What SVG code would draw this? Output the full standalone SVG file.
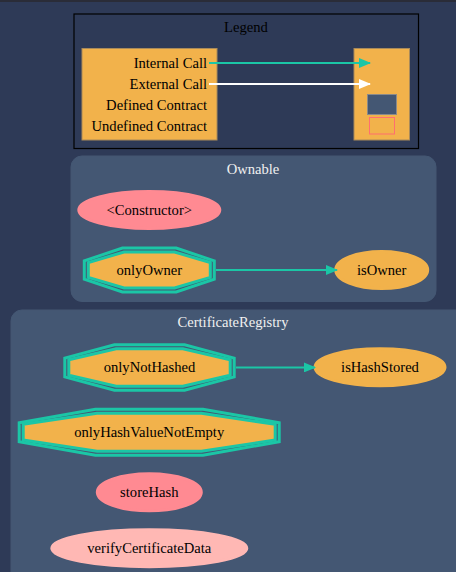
<svg xmlns="http://www.w3.org/2000/svg" width="456" height="572" viewBox="0 0 456 572">
<defs>
<style>
text{font-family:"Liberation Serif","Times New Roman",serif;font-size:14.6px;fill:#000}
.title{fill:#f0f0f0;text-anchor:middle}
.c{text-anchor:middle}
.r{text-anchor:end}
.cluster{fill:#445773;stroke:#445773}
.fn{fill:#f2b24b;stroke:#f2b24b;stroke-width:3}
.pub{fill:#ff8a92;stroke:#ff8a92;stroke-width:3}
.ext{fill:#ffb8b4;stroke:#ffb8b4;stroke-width:3}
.modo{fill:none;stroke:#1bc6a6;stroke-width:3}
.modi{fill:#f2b24b;stroke:#1bc6a6;stroke-width:3}
.int{stroke:#1bc6a6;stroke-width:2;fill:none}
.extc{stroke:#ffffff;stroke-width:2;fill:none}
</style>
<marker id="ag" markerWidth="12" markerHeight="10" refX="11" refY="5" orient="auto" markerUnits="userSpaceOnUse"><path d="M0,0 L12,5 L0,10 z" fill="#1bc6a6"/></marker>
<marker id="aw" markerWidth="12" markerHeight="10" refX="11" refY="5" orient="auto" markerUnits="userSpaceOnUse"><path d="M0,0 L12,5 L0,10 z" fill="#ffffff"/></marker>
</defs>
<rect x="0" y="0" width="456" height="572" fill="#2e3a57"/>
<rect x="0" y="0" width="456" height="2" fill="#2a2c38"/>

<g id="legend">
<rect x="74" y="14" width="344.5" height="134.5" fill="#2e3a57" stroke="#000" stroke-width="1.2"/>
<text class="c" x="246" y="32" style="fill:#000">Legend</text>
<rect x="82" y="48.5" width="135" height="91.5" fill="#f2b24b" stroke="#a98a5a" stroke-width="1"/>
<rect x="354" y="48.5" width="55.5" height="91.5" fill="#f2b24b" stroke="#a98a5a" stroke-width="1"/>
<text class="r" x="207" y="67.5">Internal Call</text>
<text class="r" x="207" y="88.5">External Call</text>
<text class="r" x="207" y="109.5">Defined Contract</text>
<text class="r" x="207" y="130.5">Undefined Contract</text>
<rect x="367.5" y="94.5" width="29" height="20" fill="#445773" stroke="#8a8a8a" stroke-width="1"/>
<rect x="369.5" y="117.5" width="25" height="16.5" fill="#f2b24b" stroke="#ff6f6f" stroke-width="1"/>
</g>

<g id="Ownable">
<rect class="cluster" x="71" y="156" width="365" height="145.5" rx="11"/>
<text class="title" x="253" y="173.5">Ownable</text>
</g>
<g id="CertificateRegistry">
<rect class="cluster" x="11" y="310" width="460" height="275" rx="11"/>
<text class="title" x="233" y="327">CertificateRegistry</text>
</g>

<g id="Ownable_constructor">
<ellipse class="pub" cx="149.3" cy="210" rx="70.5" ry="18.5"/>
<text class="c" x="149.3" y="214.8">&lt;Constructor&gt;</text>
</g>
<g id="Ownable_onlyOwner">
<polygon class="modo" points="214.3,260.9 176.2,248 122.4,248 84.3,260.9 84.3,279.1 122.4,292 176.2,292 214.3,279.1"/>
<polygon class="modi" points="210.3,262.55 174.55,252 124.05,252 88.3,262.55 88.3,277.45 124.05,288 174.55,288 210.3,277.45"/>
<text class="c" x="149.3" y="274.8">onlyOwner</text>
</g>
<g id="Ownable_isOwner">
<ellipse class="fn" cx="381.7" cy="270" rx="46" ry="18.5"/>
<text class="c" x="381.7" y="274.8">isOwner</text>
</g>

<g id="CertificateRegistry_onlyNotHashed">
<polygon class="modo" points="234.2,358.1 184.57,344.8 114.43,344.8 64.8,358.1 64.8,376.9 114.43,390.2 184.57,390.2 234.2,376.9"/>
<polygon class="modi" points="230.2,359.76 182.9,348.8 116.1,348.8 68.8,359.76 68.8,375.24 116.1,386.2 182.9,386.2 230.2,375.24"/>
<text class="c" x="149.5" y="372.3">onlyNotHashed</text>
</g>
<g id="CertificateRegistry_isHashStored">
<ellipse class="fn" cx="380" cy="367.3" rx="65" ry="18.5"/>
<text class="c" x="380" y="372.1">isHashStored</text>
</g>
<g id="CertificateRegistry_onlyHashValueNotEmpty">
<polygon class="modo" points="279.2,422.7 203,409.2 95.4,409.2 19.2,422.7 19.2,441.7 95.4,455.2 203,455.2 279.2,441.7"/>
<polygon class="modi" points="275.2,424.33 201.4,413.2 97,413.2 23.2,424.33 23.2,440.07 97,451.2 201.4,451.2 275.2,440.07"/>
<text class="c" x="149.2" y="437">onlyHashValueNotEmpty</text>
</g>
<g id="CertificateRegistry_storeHash">
<ellipse class="pub" cx="149.3" cy="492.3" rx="52" ry="18.5"/>
<text class="c" x="149.3" y="497.1">storeHash</text>
</g>
<g id="CertificateRegistry_verifyCertificateData">
<ellipse class="ext" cx="149.3" cy="548.3" rx="97.5" ry="18.5"/>
<text class="c" x="149.3" y="553.1">verifyCertificateData</text>
</g>

<g id="connectors">
<line class="int" x1="209" y1="63" x2="370" y2="63" marker-end="url(#ag)"/>
<line class="extc" x1="209" y1="84" x2="370" y2="84" marker-end="url(#aw)"/>
<line class="int" x1="216" y1="270" x2="337" y2="270" marker-end="url(#ag)"/>
<line class="int" x1="236" y1="367.4" x2="315" y2="367.4" marker-end="url(#ag)"/>
</g>
</svg>
